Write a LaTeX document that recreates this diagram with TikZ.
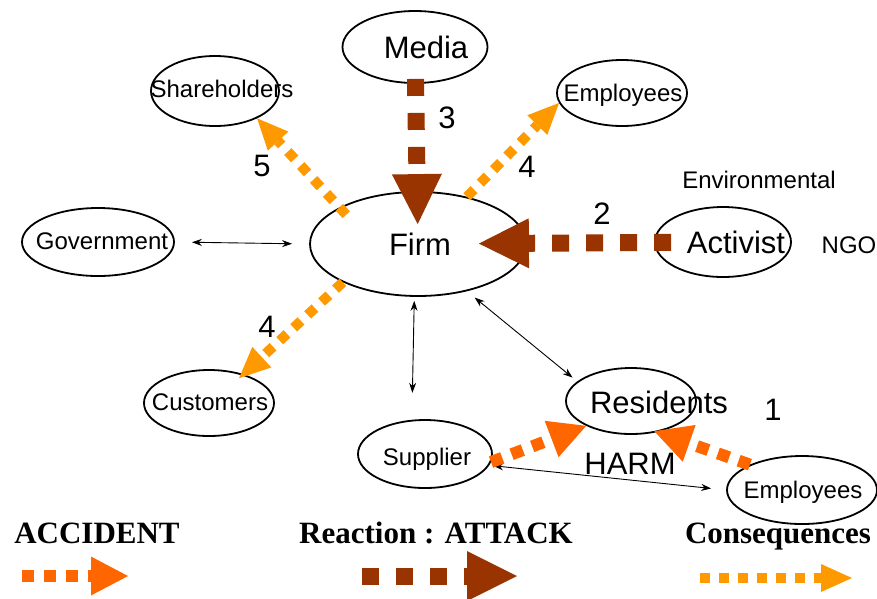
\documentclass[tikz,border=0pt]{standalone}
\usepackage{fontspec}
\setmainfont{Liberation Sans}
\newfontfamily\legendfont{Liberation Serif}
\usetikzlibrary{shapes.geometric,arrows.meta}
\definecolor{attack}{HTML}{993300}
\definecolor{accident}{HTML}{FF6600}
\definecolor{conseq}{HTML}{FF9900}
\begin{document}
\begin{tikzpicture}[x=1pt, y=-1pt,
    party/.style={draw, ellipse, line width=1.8pt, inner sep=0pt},
    small/.style={font=\fontsize{24}{28}\selectfont, inner sep=0pt, text height=17pt, text depth=0pt},
    big/.style={font=\fontsize{31}{36}\selectfont, inner sep=0pt, text height=22pt, text depth=0pt},
    legend/.style={font=\legendfont\bfseries\fontsize{31}{36}\selectfont, inner sep=0pt, anchor=base},
    link/.style={{Stealth[length=10pt,width=7pt]}-{Stealth[length=10pt,width=7pt]}, line width=0.9pt},
    attackarrow/.style={draw=attack, line width=17pt, dash pattern=on 17pt off 17pt, -{Triangle[length=50pt,width=50pt,line width=0pt]}},
    accidentarrow/.style={draw=accident, line width=12pt, dash pattern=on 12pt off 10pt, -{Triangle[length=37pt,width=39pt,line width=0pt]}},
    conseqarrow/.style={draw=conseq, line width=10pt, dash pattern=on 10pt off 9pt, -{Triangle[length=31pt,width=28pt,line width=0pt]}}]

    \useasboundingbox (0,0) rectangle (877,598);

    \node[party, minimum width=145pt, minimum height=72pt] (media) at (415,47) {};
    \node[big] (mediatext) at (426,47) {Media};
    \node[party, minimum width=128pt, minimum height=70pt] (share) at (215,91) {};
    \node[small] (sharetext) at (222,89) {Shareholders};
    \node[party, minimum width=130pt, minimum height=66pt] (emptop) at (622,93) {};
    \node[small] (emptoptext) at (623,93) {Employees};
    \node[party, minimum width=152pt, minimum height=68pt] (gov) at (98,242) {};
    \node[small] (govtext) at (102,241) {Government};
    \node[party, minimum width=216pt, minimum height=104pt] (firm) at (418,244) {};
    \node[big] (firmtext) at (420,244) {Firm};
    \node[party, minimum width=136pt, minimum height=70pt] (activist) at (723,242) {};
    \node[big] (activisttext) at (736,242) {Activist};
    \node[small] (envtext) at (759,180) {Environmental};
    \node[small] (ngotext) at (849,245) {NGO};
    \node[party, minimum width=130pt, minimum height=66pt] (cust) at (209,403) {};
    \node[small] (custtext) at (210,402) {Customers};
    \node[party, minimum width=130pt, minimum height=66pt] (resid) at (631,401) {};
    \node[big] (residtext) at (659,402) {Residents};
    \node[party, minimum width=134pt, minimum height=68pt] (supplier) at (425,454) {};
    \node[small] (suppliertext) at (427,457) {Supplier};
    \node[party, minimum width=150pt, minimum height=68pt] (empbot) at (802,490) {};
    \node[small] (empbottext) at (803,490) {Employees};

    \node[big] (n3) at (447,117) {3};
    \node[big] (n4a) at (527,166) {4};
    \node[big] (n5) at (262,165) {5};
    \node[big] (n2) at (602,213) {2};
    \node[big] (n4b) at (267,326) {4};
    \node[big] (n1) at (773,409) {1};
    \node[big] (harm) at (630,463) {HARM};

    \draw[link, shorten <=17pt, shorten >=17pt] (gov.east) -- (firm.west);
    \draw[link, shorten <=4pt, shorten >=27pt] (firm.-94) -- (supplier.111);
    \draw[link, shorten <=10pt, shorten >=6pt] (firm.-44) -- (resid.160);
    \draw[link, shorten <=4pt, shorten >=15pt] (supplier.-10) -- (empbot.west);

    \draw[attackarrow, shorten <=-5pt, shorten >=-33pt] (media) -- (firm);
    \draw[attackarrow, shorten <=-17pt, shorten >=-48pt] (activist) -- (firm);
    \draw[conseqarrow, shorten <=-10pt] (firm.155) -- (share.-33);
    \draw[conseqarrow] (firm.44) -- (emptop.189);
    \draw[conseqarrow, shorten >=-6pt] (firm.207) -- (cust.40);
    \draw[accidentarrow] (supplier.-7) -- (resid.209);
    \draw[accidentarrow, shorten >=-3pt] (empbot.154) -- (resid.-50);

    \node[legend] (acctext) at (97,543) {ACCIDENT};
    \node[legend] (attacktext) at (436,543) {Reaction : ATTACK};
    \node[legend] (conseqtext) at (778,543) {Consequences};
    \coordinate (accfrom) at (22,576);
    \coordinate (accto) at (128,576);
    \coordinate (attfrom) at (362,576);
    \coordinate (attto) at (517,576);
    \coordinate (confrom) at (700,578);
    \coordinate (conto) at (852,578);
    \draw[accidentarrow] (accfrom) -- (accto);
    \draw[attackarrow] (attfrom) -- (attto);
    \draw[conseqarrow] (confrom) -- (conto);
\end{tikzpicture}
\end{document}
